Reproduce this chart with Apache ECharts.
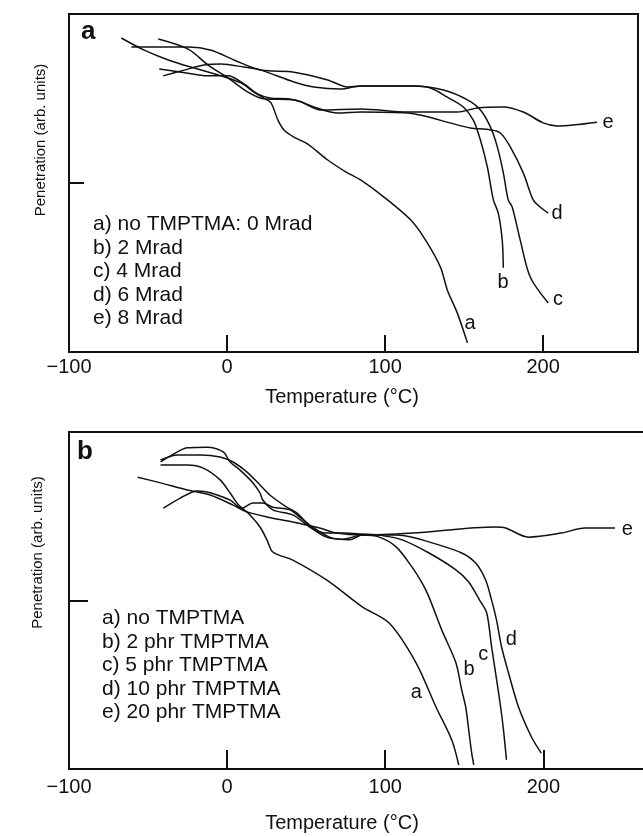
<!DOCTYPE html>
<html>
<head>
<meta charset="utf-8">
<script src="https://cdn.jsdelivr.net/npm/echarts@6/dist/echarts.min.js"></script>
<style>
  html, body { margin: 0; padding: 0; background: #fff; }
  #chart { width: 643px; height: 837px; }
</style>
</head>
<body>
<div id="chart"></div>
<script>
// Penetration (arbitrary units) against temperature:
// panel a – irradiation dose series, panel b – TMPTMA content series.

const tempTickLabels = [-100, 0, 100, 200];
const tempTicks = [0, 100, 200];
const penTicks = [5];

// Panel a: [temperature °C, penetration]
const doseA = [[-66.9,9.29],[-52.4,8.93],[-37.2,8.64],[-20.8,8.40],[-3.8,8.17],[8.8,7.96],[17.0,7.69],[23.3,7.51],[27.8,7.37],[32.2,6.86],[36.0,6.57],[42.3,6.36],[51.1,6.15],[63.7,5.68],[75.1,5.33],[84.5,5.09],[99.1,4.59],[116.1,3.91],[125.6,3.31],[135.0,2.51],[139.4,1.83],[145.7,1.15],[152.1,0.27]];
const doseB = [[-60.6,9.02],[-46.1,9.02],[-24.6,9.02],[-10.1,8.93],[4.4,8.64],[21.5,8.34],[42.3,8.28],[63.7,8.05],[76.3,7.84],[84.5,7.87],[118.0,7.87],[128.7,7.81],[139.4,7.54],[149.5,7.25],[155.8,6.86],[160.3,6.27],[164.7,5.47],[168.5,4.50],[171.6,4.11],[174.1,3.31],[174.8,2.49]];
const doseC = [[-40.4,8.17],[-27.1,8.34],[-14.5,8.49],[-3.8,8.52],[10.7,8.43],[21.5,8.34],[42.3,7.99],[54.9,7.84],[71.9,7.78],[84.5,7.87],[118.0,7.87],[136.9,7.75],[152.1,7.46],[160.3,7.16],[166.6,6.66],[171.0,6.07],[174.8,5.30],[177.9,4.50],[180.4,4.29],[185.5,3.31],[191.8,2.22],[203.2,1.45]];
const doseD = [[-43.5,9.26],[-24.6,8.96],[-12.0,8.49],[0.6,8.11],[13.2,7.69],[23.3,7.49],[42.3,7.46],[54.9,7.25],[70.0,7.07],[84.5,7.10],[114.2,7.07],[145.7,6.72],[153.9,6.63],[166.6,6.57],[172.9,6.48],[179.2,6.07],[187.4,5.30],[193.7,4.50],[198.1,4.29],[203.2,4.11]];
const doseE = [[-42.9,8.37],[-29.0,8.28],[-12.0,8.17],[0.6,8.17],[10.7,7.93],[19.6,7.63],[27.8,7.51],[38.5,7.49],[46.7,7.40],[59.3,7.16],[84.5,7.19],[114.2,7.10],[145.7,7.10],[158.4,7.22],[174.8,7.25],[187.4,7.10],[200.0,6.78],[208.8,6.69],[234.1,6.80]];

// Panel b: [temperature °C, penetration]
const phrA = [[-42.1,9.02],[-25.2,9.02],[-15.1,8.93],[-4.4,8.58],[1.9,8.19],[6.3,7.89],[9.4,7.74],[14.5,7.54],[20.8,7.18],[25.2,6.80],[28.9,6.44],[41.5,6.20],[62.9,5.61],[85.5,4.81],[102.5,4.33],[119.5,3.15],[132.1,1.84],[142.1,0.86],[146.5,0.12]];
const phrB = [[-42.1,9.11],[-35.8,9.29],[-25.2,9.53],[-12.6,9.55],[-2.5,9.41],[1.9,9.11],[8.2,8.87],[16.4,8.49],[20.8,8.19],[22.6,7.98],[28.9,7.69],[41.5,7.54],[52.2,7.18],[62.9,6.88],[73.0,6.82],[85.5,6.94],[96.2,6.88],[106.9,6.59],[117.0,5.99],[123.3,5.52],[127.7,5.10],[135.8,4.12],[144.7,3.15],[148.4,2.34],[150.9,1.84],[152.8,1.16],[154.7,0.47],[156.0,0.12]];
const phrC = [[-42.1,9.17],[-31.4,9.32],[-17.0,9.32],[-4.4,9.26],[3.8,9.11],[12.6,8.81],[20.8,8.43],[27.0,8.13],[37.7,7.77],[44.0,7.60],[54.1,7.15],[62.9,7.00],[74.2,7.00],[85.5,6.97],[96.2,6.94],[110.7,6.80],[127.7,6.41],[144.7,5.91],[152.8,5.55],[159.7,5.01],[164.2,4.63],[167.3,3.62],[169.8,2.85],[173.0,1.84],[174.8,1.16],[176.7,0.27]];
const phrD = [[-40.3,7.74],[-29.6,8.04],[-18.9,8.25],[-12.6,8.22],[-6.3,8.13],[1.9,7.98],[9.4,7.74],[16.4,7.89],[22.6,7.89],[28.9,7.77],[39.6,7.69],[44.0,7.55],[52.2,7.24],[64.8,6.88],[77.4,6.80],[85.5,6.94],[106.9,6.94],[117.0,6.88],[127.7,6.74],[148.4,6.41],[157.2,6.11],[163.5,5.61],[167.3,5.01],[170.4,4.42],[173.6,3.62],[178.0,2.85],[184.3,1.84],[192.5,0.95],[198.7,0.47]];
const phrE = [[-56.6,8.66],[-42.1,8.49],[-25.2,8.28],[-10.7,8.13],[3.8,7.83],[12.6,7.63],[25.2,7.48],[41.5,7.33],[58.5,7.15],[69.2,7.00],[85.5,6.94],[117.0,7.00],[169.8,7.18],[176.1,7.15],[190.6,6.88],[211.3,7.00],[226.4,7.15],[245.3,7.15]];

// Curve letters: [letter, temperature, penetration]
const doseTags = [['a',153.7,0.83],['b',174.6,2.07],['c',209.4,1.54],['d',208.8,4.11],['e',241.0,6.80]];
const phrTags = [['a',119.6,2.26],['b',153.1,2.94],['c',162.0,3.41],['d',179.7,3.83],['e',253.1,7.12]];

const doseLegend = ['a) no TMPTMA: 0 Mrad', 'b) 2 Mrad', 'c) 4 Mrad', 'd) 6 Mrad', 'e) 8 Mrad'];
const phrLegend = ['a) no TMPTMA', 'b) 2 phr TMPTMA', 'c) 5 phr TMPTMA', 'd) 10 phr TMPTMA', 'e) 20 phr TMPTMA'];

const FONT = "'Liberation Sans', Arial, Helvetica, sans-serif";
const INK = '#111';

const fmtTemp = v => (v < 0 ? '\u2212' + Math.abs(v) : String(v));

function tempAxis(idx, max, labelMargin, nameGap, namePadRight, tickLen) {
  return {
    type: 'value', gridIndex: idx, min: -100, max: max,
    axisLine: { show: true, onZero: false, lineStyle: { color: INK, width: 2 } },
    axisTick: { show: true, inside: true, length: tickLen, customValues: tempTicks, lineStyle: { color: INK, width: 2 } },
    axisLabel: { show: true, customValues: tempTickLabels, formatter: fmtTemp, margin: labelMargin, fontSize: 20, color: INK, fontFamily: FONT },
    splitLine: { show: false },
    name: 'Temperature (\u00B0C)', nameLocation: 'middle', nameGap: nameGap,
    nameTextStyle: { fontSize: 20, color: INK, fontFamily: FONT, padding: [0, namePadRight, 0, 0] }
  };
}

function penAxis(idx, tickLen, padLeft, gap) {
  return {
    type: 'value', gridIndex: idx, min: 0, max: 10,
    axisLine: { show: true, onZero: false, lineStyle: { color: INK, width: 2 } },
    axisTick: { show: true, inside: true, length: tickLen, customValues: penTicks, lineStyle: { color: INK, width: 2 } },
    axisLabel: { show: false },
    splitLine: { show: false },
    name: 'Penetration (arb. units)', nameLocation: 'middle', nameRotate: 90, nameGap: gap,
    nameTextStyle: { fontSize: 15, color: INK, fontFamily: FONT, padding: [0, 0, 0, padLeft] }
  };
}

function curve(data, idx) {
  return {
    type: 'line', xAxisIndex: idx, yAxisIndex: idx, data: data,
    symbol: 'none', showSymbol: false, smooth: 0.3, silent: true,
    lineStyle: { color: INK, width: 1.5 }
  };
}

function tags(list, idx) {
  return {
    type: 'scatter', xAxisIndex: idx, yAxisIndex: idx, symbolSize: 0, silent: true,
    itemStyle: { opacity: 1, color: INK },
    data: list.map(t => ({ name: t[0], value: [t[1], t[2]] })),
    label: { show: true, position: 'inside', formatter: '{b}', fontSize: 20, color: INK, opacity: 1, fontFamily: FONT }
  };
}

const chart = echarts.init(document.getElementById('chart'), null, { renderer: 'canvas' });
chart.setOption({
  backgroundColor: '#fff',
  animation: false,
  title: [
    { text: 'a', left: 81, top: 19, padding: 0, textStyle: { fontSize: 26, fontWeight: 'bold', color: INK, fontFamily: FONT } },
    { text: 'b', left: 77, top: 439, padding: 0, textStyle: { fontSize: 26, fontWeight: 'bold', color: INK, fontFamily: FONT } },
    { text: doseLegend.join('\n'), left: 93, top: 213, padding: 0, textStyle: { fontSize: 21, lineHeight: 23.4, fontWeight: 'normal', color: INK, fontFamily: FONT } },
    { text: phrLegend.join('\n'), left: 102, top: 607, padding: 0, textStyle: { fontSize: 21, lineHeight: 23.4, fontWeight: 'normal', color: INK, fontFamily: FONT } }
  ],
  grid: [
    { left: 69, top: 14, width: 569, height: 338, outerBoundsMode: 'none', show: true, borderColor: INK, borderWidth: 2, backgroundColor: 'transparent' },
    { left: 69, top: 432, width: 585, height: 337, outerBoundsMode: 'none', show: true, borderColor: INK, borderWidth: 2, backgroundColor: 'transparent' }
  ],
  xAxis: [
    tempAxis(0, 260, 5, 35, 23, 17),
    tempAxis(1, 270, 8, 44, 39, 19)
  ],
  yAxis: [
    penAxis(0, 15, 86, 21),
    penAxis(1, 19, 96, 24)
  ],
  series: [
    curve(doseA, 0), curve(doseB, 0), curve(doseC, 0), curve(doseD, 0), curve(doseE, 0),
    curve(phrA, 1), curve(phrB, 1), curve(phrC, 1), curve(phrD, 1), curve(phrE, 1),
    tags(doseTags, 0), tags(phrTags, 1)
  ]
});
</script>
</body>
</html>
